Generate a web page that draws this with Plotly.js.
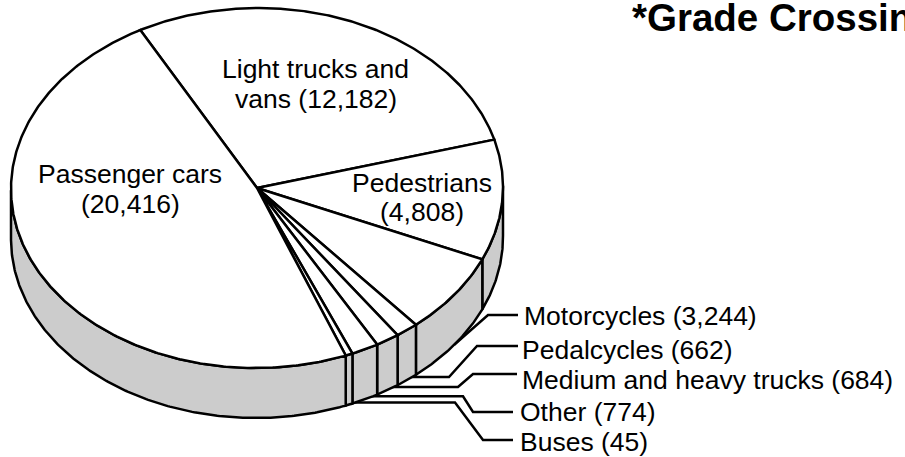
<!DOCTYPE html>
<html><head><meta charset="utf-8">
<script src="https://cdn.plot.ly/plotly-3.0.1.min.js"></script>
<style>html,body{margin:0;padding:0;background:#fff;overflow:hidden}</style>
</head><body><div id="chart" style="width:905px;height:457px"></div>
<script>
// Data, clockwise from the Passenger cars / Light trucks boundary
const categories = ["Light trucks and vans","Pedestrians","Motorcycles","Pedalcycles","Medium and heavy trucks","Other","Buses","Passenger cars"];
const values = [12182,4808,3244,662,684,774,45,20416];
const titleText = "*Grade Crossing";
// Text lines placed on the pie (one per row)
const pieLabelLines = ["Light trucks and","vans (12,182)","Pedestrians","(4,808)","Passenger cars","(20,416)"];
const sideLabels = ["Motorcycles (3,244)","Pedalcycles (662)","Medium and heavy trucks (684)","Other (774)","Buses (45)"];

// Geometry of the tilted disc, in pixels of the axes below
const cx=257, cy=188, rx=246, ry=180, depth=50, tilt=-0.5*Math.PI/180;
const startDeg=-117.9, minSliceDeg=1.7, stepDeg=0.5;
const INK="#000", SIDE="#cccccc", LW=2.5;
// small perspective correction of the slice boundaries, in degrees
function warp(d){const r=Math.PI/180;return d+Math.sin(2*(d+60)*r)+0.85*Math.cos((d+110)*r);}

function pt(deg,dz){const t=deg*Math.PI/180,u=rx*Math.cos(t),v=ry*Math.sin(t);
  return [cx+u*Math.cos(tilt)-v*Math.sin(tilt), cy+u*Math.sin(tilt)+v*Math.cos(tilt)+(dz||0)];}
function arc(a,b,dz){const out=[],n=Math.max(2,Math.ceil(Math.abs(b-a)/stepDeg));
  for(let i=0;i<=n;i++)out.push(pt(a+(b-a)*i/n,dz));return out;}

// slice angles from the values (the tiniest slice gets a minimum visible width)
const total=values.reduce((s,v)=>s+v,0);
const small=values.filter(v=>v/total*360<minSliceDeg);
const restTotal=total-small.reduce((s,v)=>s+v,0);
const restDeg=360-small.length*minSliceDeg;
let acc=startDeg;
const slices=values.map((v,i)=>{const w=(v/total*360<minSliceDeg)?minSliceDeg:v/restTotal*restDeg;
  const s={a:warp(acc),b:warp(acc+w),name:categories[i]};acc+=w;return s;});

const traces=[];
function poly(points,fill,name){traces.push({x:points.map(p=>p[0]),y:points.map(p=>p[1]),mode:"lines",
  fill:fill?"toself":"none",fillcolor:fill||undefined,line:{color:INK,width:LW,shape:"linear"},
  hoverinfo:"skip",showlegend:false,name:name||""});}

// leader lines (under the side wall): [x end of first run, label level, x of bend, x at text]
const leaderY=[315,346,374,412,440];
const leaderBendA=[null,449,458,463,455];
const leaderBendB=[488,477,473,473,483];
const leaderEnd=[518,518,517,513,513];
const leaderSlices=[2,3,4,5,6];
const leaderRise=[0,-3,-3,-3,-2];
leaderSlices.forEach((si,k)=>{const s=slices[si],st=pt((s.a+s.b)/2,depth);st[1]+=leaderRise[k];
  const p=[st];if(leaderBendA[k]!==null)p.push([leaderBendA[k],st[1]]);
  p.push([leaderBendB[k],leaderY[k]],[leaderEnd[k],leaderY[k]]);poly(p,null,"leader "+s.name);});

// side wall: only the front half of the disc (angles 0..180)
slices.forEach(s=>{[[s.a,s.b],[s.a+360,s.b+360]].forEach(([a0,b0])=>{
  const a=Math.max(a0,0),b=Math.min(b0,180);
  if(b>a){const top=arc(a,b,0),bot=arc(b,a,depth);poly(top.concat(bot,[top[0]]),SIDE,"side "+s.name);}});});

// top face
slices.forEach(s=>{poly([[cx,cy]].concat(arc(s.a,s.b,0),[[cx,cy]]),"#ffffff",s.name);});

const F="'Liberation Sans',Arial,sans-serif", FS=26.5;
function lab(text,x,y,anchor){return {text:text,x:x,y:y,xref:"x",yref:"y",showarrow:false,xanchor:anchor||"center",yanchor:"middle",
  font:{family:F,size:FS,color:"#000"},borderpad:0,borderwidth:0};}
const pieX=[315,316,422,422,130,130], pieY=[69,99,183,212,174,204];
const sideX=[524,522,522,520,520], sideY=[316,350,380,412,442];
const annotations=pieLabelLines.map((t,i)=>lab(t,pieX[i],pieY[i]))
  .concat(sideLabels.map((t,i)=>lab(t,sideX[i],sideY[i],"left")));

Plotly.newPlot("chart",traces,{
  width:905,height:457,margin:{l:0,r:0,t:0,b:0},paper_bgcolor:"#fff",plot_bgcolor:"#fff",showlegend:false,
  title:{text:titleText,x:632/905,xref:"paper",xanchor:"left",y:1-17.5/457,yref:"paper",yanchor:"middle",
    font:{family:F,size:38.5,weight:700,color:"#000"}},
  xaxis:{range:[0,905],visible:false,fixedrange:true},
  yaxis:{range:[457,0],visible:false,fixedrange:true},
  annotations:annotations
},{displayModeBar:false,staticPlot:true});
</script></body></html>
